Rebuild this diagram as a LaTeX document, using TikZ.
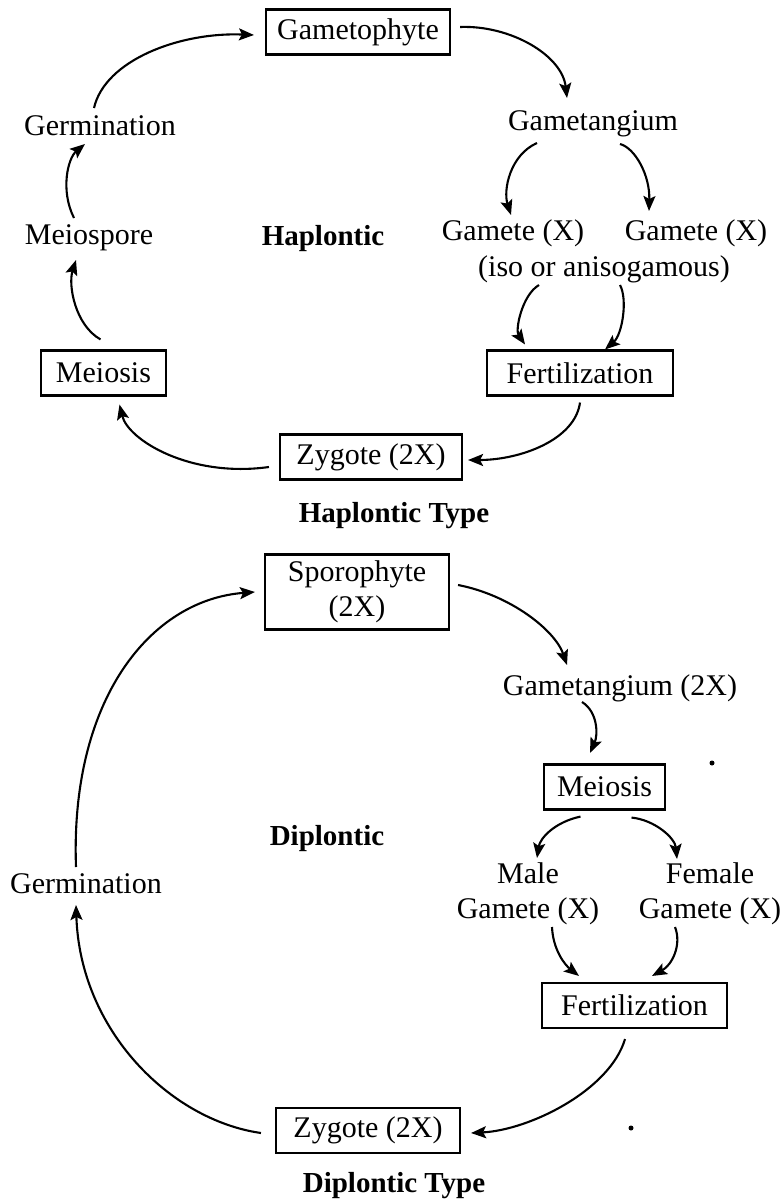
\documentclass[tikz,border=0pt]{standalone}
\usepackage{fontspec}
\setmainfont{Liberation Serif}
\usetikzlibrary{arrows.meta,calc}
\begin{document}
\begin{tikzpicture}[x=1pt,y=-1pt,
  every node/.style={font=\fontsize{30}{35}\selectfont, inner sep=0pt},
  lbl/.style={},
  bold/.style={font=\fontsize{29}{34}\selectfont\bfseries},
  box/.style={draw, line width=2.1pt, minimum height=45pt},
  arr/.style={line width=2.1pt, -{Stealth[length=15pt,width=12pt,inset=3pt]}},
  dotmark/.style={fill=black, circle, inner sep=0pt, minimum size=5pt}
]
\useasboundingbox (0,0) rectangle (782,1204);
% ---------- Haplontic ----------
\node[box, minimum width=184pt] (gph) at (358,32) {Gametophyte};
\node[lbl] (gtg) at (593,124) {Gametangium};
\node[lbl] (germ1) at (100,126) {Germination};
\node[lbl] (msp) at (89,238) {Meiospore};
\node[bold] (hap) at (323,239) {Haplontic};
\node[lbl] (gl) at (513,233) {Gamete (X)};
\node[lbl] (gr) at (696,233) {Gamete (X)};
\node[lbl] (iso) at (604,269) {(iso or anisogamous)};
\node[box, minimum width=186pt] (fert1) at (580,373) {Fertilization};
\node[box, minimum width=125pt] (mei1) at (103.5,373) {Meiosis};
\node[box, minimum width=182pt] (zyg1) at (371,457) {Zygote (2X)};
\node[bold] (hapT) at (394,516) {Haplontic Type};

\draw[arr] ($(germ1)+(-6,-18)$) .. controls (105,60) and (180,32) .. ($(gph.west)+(-11,3)$);
\draw[arr] ($(gph.east)+(9,-5)$) .. controls (510,25) and (562,55) .. ($(gtg)+(-26,-26)$);
\draw[arr] ($(gtg)+(-56,19)$) .. controls (510,155) and (503,190) .. ($(gl)+(-2,-18)$);
\draw[arr] ($(gtg)+(27,20)$) .. controls (635,148) and (650,175) .. ($(gr)+(-47,-22)$);
\draw[arr] ($(iso)+(-65,16)$) .. controls (522,295) and (515,330) .. ($(fert1.north)+(-55,-5)$);
\draw[arr] ($(iso)+(16,16)$) .. controls (628,300) and (622,335) .. ($(fert1.north)+(25,0)$);
\draw[arr] ($(fert1.south)+(0,6)$) .. controls (575,440) and (520,460) .. ($(zyg1.east)+(5,3)$);
\draw[arr] ($(zyg1.west)+(-10,10)$) .. controls (190,478) and (128,440) .. ($(mei1.south)+(16,8)$);
\draw[arr] ($(mei1.north)+(-3,-10)$) .. controls (75,325) and (68,285) .. ($(msp)+(-13,22)$);
\draw[arr] ($(msp)+(-15,-20)$) .. controls (60,190) and (68,158) .. ($(germ1)+(-15,18)$);

% ---------- Diplontic ----------
\node[box, minimum width=184pt, minimum height=75pt, align=center] (spo) at (357,592) {Sporophyte\\(2X)};
\node[lbl] (gtg2) at (620,688) {Gametangium (2X)};
\node[box, minimum width=121pt] (mei2) at (604.5,787) {Meiosis};
\node[bold] (dip) at (327,839) {Diplontic};
\node[lbl] (germ2) at (86,884) {Germination};
\node[lbl, align=center] (male) at (528,894) {Male\\Gamete (X)};
\node[lbl, align=center] (female) at (710,894) {Female\\Gamete (X)};
\node[box, minimum width=185pt] (fert2) at (634.5,1005.5) {Fertilization};
\node[box, minimum width=184pt] (zyg2) at (368,1130.5) {Zygote (2X)};
\node[bold] (dipT) at (394,1186) {Diplontic Type};
\node[dotmark] (d1) at (712,763) {};
\node[dotmark] (d2) at (631,1128) {};

\draw[arr] ($(germ2)+(-10,-17)$) .. controls (70,700) and (150,600) .. ($(spo.west)+(-9,0)$);
\draw[arr] ($(spo.east)+(8,-7)$) .. controls (510,595) and (555,630) .. ($(gtg2)+(-53,-23)$);
\draw[arr] ($(gtg2)+(-38,14)$) .. controls (598,712) and (598,735) .. ($(mei2.north)+(-14.5,-10.5)$);
\draw[arr] ($(mei2.south)+(-24,6)$) .. controls (555,822) and (540,838) .. ($(male)+(9,-36)$);
\draw[arr] ($(mei2.south)+(27,7)$) .. controls (655,820) and (675,838) .. ($(female)+(-33,-35)$);
\draw[arr] ($(male)+(24,33)$) .. controls (553,950) and (565,965) .. ($(fert2.north)+(-55.5,-6)$);
\draw[arr] ($(female)+(-35,33)$) .. controls (682,945) and (672,965) .. ($(fert2.north)+(17.5,-6)$);
\draw[arr] ($(fert2.south)+(-9.5,10)$) .. controls (610,1090) and (530,1130) .. ($(zyg2.east)+(10,2.5)$);
\draw[arr] ($(zyg2.west)+(-14,2.5)$) .. controls (170,1120) and (80,1030) .. ($(germ2)+(-10,21)$);
\end{tikzpicture}
\end{document}
